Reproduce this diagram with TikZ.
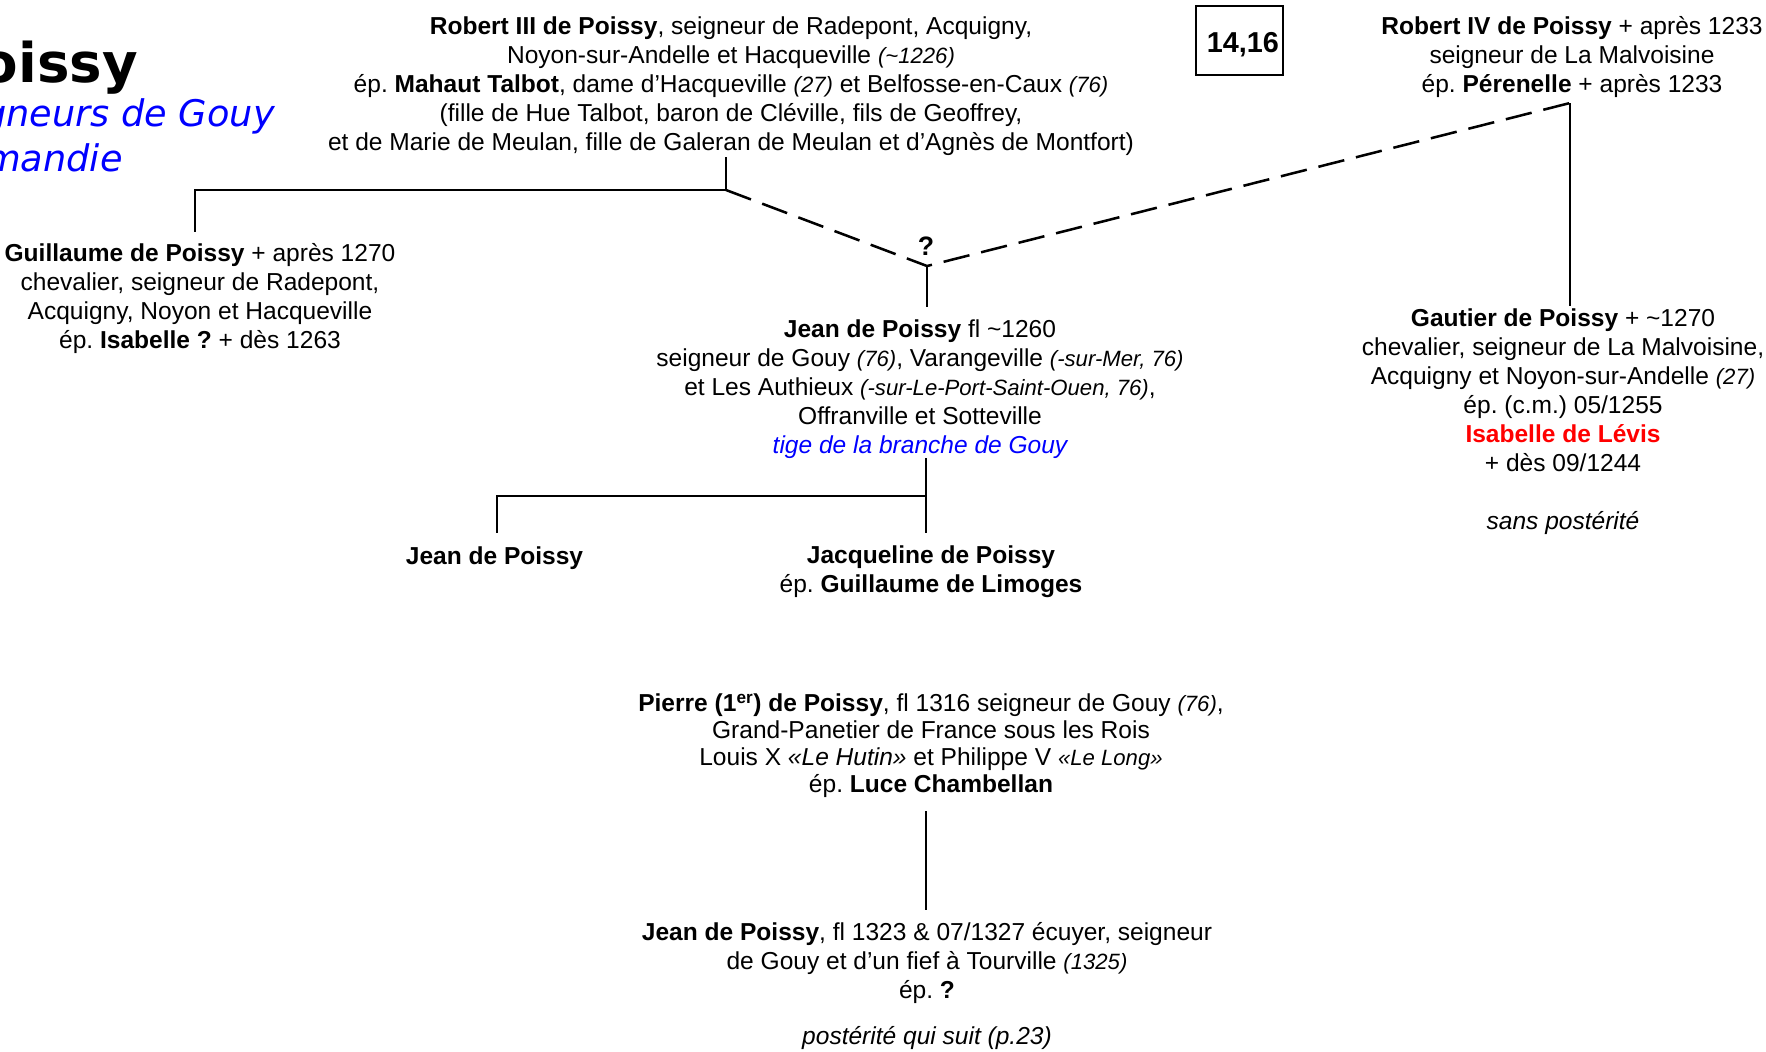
\documentclass[tikz,border=0pt]{standalone}
\usepackage{fontspec}
\setmainfont{Liberation Sans}
\newfontfamily\titlefont{DejaVu Sans}
\newcommand{\si}[1]{{\fontsize{16.6}{17}\selectfont\itshape #1}}
\frenchspacing
\begin{document}
\begin{tikzpicture}[x=0.75pt,y={(0pt,-0.75pt)},
  person/.style={align=center, inner sep=0pt, anchor=base, font=\fontsize{18.4}{21.75}\selectfont},
  link/.style={line width=1.9pt},
  dashlink/.style={line width=1.9pt, dash pattern=on 20pt off 9pt}]
\useasboundingbox (0,0) rectangle (1766,1051);
\clip (0,0) rectangle (1766,1051);
% title
\node[anchor=base east, inner sep=0pt, font=\titlefont\bfseries\fontsize{41}{41}\selectfont] (title) at (138,82) {Poissy};
\node[anchor=base east, inner sep=0pt, text=blue, font=\titlefont\itshape\fontsize{27.5}{30}\selectfont] (sub1) at (275,126) {Seigneurs de Gouy};
\node[anchor=base east, inner sep=0pt, text=blue, font=\titlefont\itshape\fontsize{27.5}{30}\selectfont] (sub2) at (123,171) {en Normandie};
% box
\node[draw, line width=0.9pt, minimum width=65.25pt, minimum height=51.75pt, inner sep=0pt, font=\bfseries\fontsize{21.6}{24}\selectfont] (num) at (1239.5,40.5) {\hspace*{2.5pt}\raisebox{-3.4pt}[\height][\depth]{14,16}\hspace*{-2.5pt}};
% people (anchor base = baseline of the last line)
\node[person] (r3) at (731,150) {\textbf{Robert III de Poissy}, seigneur de Radepont, Acquigny,\\
Noyon-sur-Andelle et Hacqueville \si{(\textasciitilde1226)}\\
ép. \textbf{Mahaut Talbot}, dame d’Hacqueville \si{(27)} et Belfosse-en-Caux \si{(76)}\\
(fille de Hue Talbot, baron de Cléville, fils de Geoffrey,\\
et de Marie de Meulan, fille de Galeran de Meulan et d’Agnès de Montfort)};
\node[person] (r4) at (1572,92) {\textbf{Robert IV de Poissy} + après 1233\\ seigneur de La Malvoisine\\ ép. \textbf{Pérenelle} + après 1233};
\node[person] (gui) at (200,348) {\textbf{Guillaume de Poissy} + après 1270\\ chevalier, seigneur de Radepont,\\ Acquigny, Noyon et Hacqueville\\ ép. \textbf{Isabelle ?} + dès 1263};
\node[anchor=base, inner sep=0pt, font=\bfseries\fontsize{20}{20}\selectfont] (qm) at (926,255) {?};
\node[person] (jean) at (920,453) {\textbf{Jean de Poissy} fl \textasciitilde1260\\ seigneur de Gouy \si{(76)}, Varangeville \si{(-sur-Mer, 76)}\\ et Les Authieux \si{(-sur-Le-Port-Saint-Ouen, 76)},\\ Offranville et Sotteville\\ \textcolor{blue}{\itshape tige de la branche de Gouy}};
\node[person] (jeanc) at (494.5,564) {\textbf{Jean de Poissy}};
\node[person] (jacq) at (931,592) {\textbf{Jacqueline de Poissy}\\ ép. \textbf{Guillaume de Limoges}};
\node[person, font=\fontsize{18.4}{20.25}\selectfont] (pierre) at (931,792.5) {\textbf{Pierre (1\textsuperscript{er}) de Poissy}, fl 1316 seigneur de Gouy \si{(76)},\\ Grand-Panetier de France sous les Rois\\ Louis X \textit{«Le Hutin»} et Philippe V \si{«Le Long»}\\ ép. \textbf{Luce Chambellan}};
\node[person] (jeanf) at (927,1044.5) {\textbf{Jean de Poissy}, fl 1323 \& 07/1327 écuyer, seigneur\\ de Gouy et d’un fief à Tourville \si{(1325)}\\ ép. \textbf{?}\\[12.75pt] \textit{postérité qui suit (p.23)}};
\node[person] (gau) at (1563,529) {\textbf{Gautier de Poissy} + \textasciitilde1270\\ chevalier, seigneur de La Malvoisine,\\ Acquigny et Noyon-sur-Andelle \si{(27)}\\ ép. (c.m.) 05/1255\\ \textcolor{red}{\textbf{Isabelle de Lévis}}\\ + dès 09/1244\\[21.75pt] \textit{sans postérité}};
% connector points
\coordinate (r3s) at (726,157);
\coordinate (j1) at (726,190);
\coordinate (gk) at (195,190);
\coordinate (gtop) at (195,232);
\coordinate (qj) at (927,266);
\coordinate (c4) at (1570,103);
\coordinate (gat) at (1570,306);
\coordinate (jt) at (927,307);
\coordinate (jb) at (926,458);
\coordinate (jh) at (926,496);
\coordinate (jl) at (497,496);
\coordinate (jcl) at (497,533);
\coordinate (jcb) at (926,533);
\coordinate (pb) at (926,811);
\coordinate (jft) at (926,910);
% connectors
\draw[link] (r3s) -- (j1) -- (gk) -- (gtop);
\draw[dashlink] (j1) -- (qj) -- (c4);
\draw[link] (c4) -- (gat);
\draw[link] (qj) -- (jt);
\draw[link] (jb) -- (jcb);
\draw[link] (jh) -- (jl) -- (jcl);
\draw[link] (pb) -- (jft);
\end{tikzpicture}
\end{document}
